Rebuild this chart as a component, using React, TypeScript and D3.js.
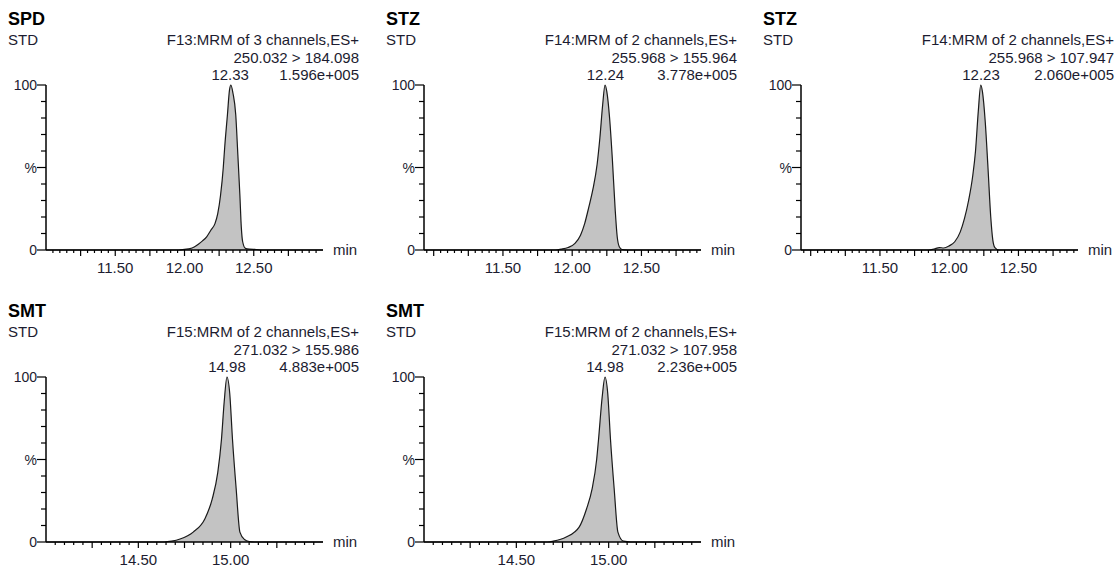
import React from "react";
import * as d3 from "d3";

// ---- data ----
const titles = ["SPD", "STZ", "STZ", "SMT", "SMT"];
const sampleLabel = "STD";
const functionLines = [
  "F13:MRM of 3 channels,ES+",
  "F14:MRM of 2 channels,ES+",
  "F14:MRM of 2 channels,ES+",
  "F15:MRM of 2 channels,ES+",
  "F15:MRM of 2 channels,ES+",
];
const transitions = [
  "250.032 > 184.098",
  "255.968 > 155.964",
  "255.968 > 107.947",
  "271.032 > 155.986",
  "271.032 > 107.958",
];
const peakTimes = [12.33, 12.24, 12.23, 14.98, 14.98];
const intensities = ["1.596e+005", "3.778e+005", "2.060e+005", "4.883e+005", "2.236e+005"];
const xDomains: [number, number][] = [
  [11.0, 13.0],
  [10.93, 12.93],
  [10.93, 12.93],
  [14.0, 15.5],
  [14.0, 15.5],
];
const xTickLabels = [
  [11.5, 12.0, 12.5],
  [11.5, 12.0, 12.5],
  [11.5, 12.0, 12.5],
  [14.5, 15.0],
  [14.5, 15.0],
];

const spdTimes = [11.0, 11.96, 12.0, 12.04, 12.07, 12.1, 12.13, 12.16, 12.19, 12.22, 12.24, 12.26, 12.28, 12.29, 12.31, 12.325, 12.335, 12.35, 12.37, 12.385, 12.4, 12.41, 12.42, 12.44, 12.47, 12.52, 12.56, 13.0];
const spdInt = [0, 0, 0.4, 0.8, 1.8, 3.5, 5.5, 8, 12, 16, 22, 33, 50, 62, 82, 97, 100, 95, 82, 58, 33, 14, 5, 1, 0.5, 0.3, 0, 0];

const stz1Times = [10.93, 11.88, 11.92, 11.97, 12.02, 12.06, 12.09, 12.12, 12.15, 12.18, 12.2, 12.22, 12.237, 12.25, 12.27, 12.29, 12.31, 12.325, 12.34, 12.36, 12.4, 12.93];
const stz1Int = [0, 0, 0.5, 1.5, 4, 9, 16, 26, 37, 52, 68, 88, 100, 96, 80, 55, 25, 8, 2, 0.3, 0, 0];

const stz2Times = [10.93, 11.85, 11.89, 11.93, 11.96, 12.0, 12.04, 12.08, 12.11, 12.14, 12.17, 12.19, 12.21, 12.228, 12.24, 12.26, 12.28, 12.3, 12.315, 12.33, 12.36, 12.93];
const stz2Int = [0, 0, 0.6, 1.5, 1.2, 2.5, 5, 11, 19, 30, 45, 60, 84, 100, 96, 78, 50, 20, 6, 1.5, 0, 0];

const smt1Times = [14.0, 14.64, 14.68, 14.726, 14.797, 14.86, 14.9, 14.93, 14.95, 14.965, 14.98, 14.995, 15.01, 15.03, 15.05, 15.075, 15.1, 15.13, 15.5];
const smt1Int = [0, 0, 0.5, 1.8, 6, 14, 26, 42, 62, 85, 100, 90, 62, 32, 6, 1.5, 0.3, 0, 0];

const smt2Times = [14.0, 14.67, 14.7, 14.77, 14.84, 14.88, 14.91, 14.935, 14.945, 14.965, 14.98, 14.995, 15.01, 15.03, 15.05, 15.08, 15.12, 15.5];
const smt2Int = [0, 0, 0.5, 3, 9, 20, 32, 50, 62, 88, 100, 90, 62, 32, 6, 0.5, 0, 0];

const seriesTimes = [spdTimes, stz1Times, stz2Times, smt1Times, smt2Times];
const seriesInt = [spdInt, stz1Int, stz2Int, smt1Int, smt2Int];

// ---- layout ----
const colX = [46, 424, 801];
const rowTop = [85, 377];
const plotW = 277;
const plotH = 165;
const FONT = "'Liberation Sans', Arial, sans-serif";
const TEXT = "#1c1c30";

function Panel({ i, ox, oy }: { i: number; ox: number; oy: number }) {
  const x = d3.scaleLinear().domain(xDomains[i]).range([ox, ox + plotW]);
  const y = d3.scaleLinear().domain([0, 100]).range([oy + plotH, oy]);
  const pts = seriesTimes[i].map((t, k) => [t, seriesInt[i][k]] as [number, number]);
  const area = d3
    .area<[number, number]>()
    .x((d) => x(d[0]))
    .y0(y(0))
    .y1((d) => y(d[1]))
    .curve(d3.curveMonotoneX);
  const line = d3
    .line<[number, number]>()
    .x((d) => x(d[0]))
    .y((d) => y(d[1]))
    .curve(d3.curveMonotoneX);

  const [d0, d1] = xDomains[i];
  const minor: number[] = [];
  for (let k = Math.ceil(d0 / 0.05 + 1e-6); ; k++) {
    const v = +(k * 0.05).toFixed(4);
    if (v >= d1 - 1e-6) break;
    minor.push(v);
  }
  const isMajor = (v: number) => Math.abs(v / 0.25 - Math.round(v / 0.25)) < 1e-6;
  const yTicks = d3.range(1, 10).map((k) => k * 10);
  const base = y(0);
  const rightX = ox + 313;

  return (
    <g fontFamily={FONT}>
      <text x={ox - 38} y={oy - 60} fontSize={18} fontWeight="bold" fill="#000">
        {titles[i]}
      </text>
      <text x={ox - 38} y={oy - 40} fontSize={15} fill={TEXT}>
        {sampleLabel}
      </text>
      <text x={rightX} y={oy - 40} fontSize={15} fill={TEXT} textAnchor="end">
        {functionLines[i]}
      </text>
      <text x={rightX} y={oy - 22} fontSize={15} fill={TEXT} textAnchor="end">
        {transitions[i]}
      </text>
      <text x={rightX} y={oy - 5} fontSize={15} fill={TEXT} textAnchor="end">
        {intensities[i]}
      </text>
      <text x={x(peakTimes[i])} y={oy - 5} fontSize={15} fill={TEXT} textAnchor="middle">
        {peakTimes[i].toFixed(2)}
      </text>

      <path d={area(pts) || ""} fill="#c3c3c3" stroke="none" />
      <path d={line(pts) || ""} fill="none" stroke="#1a1a1a" strokeWidth={1.2} />

      {/* y axis */}
      <line x1={ox} x2={ox} y1={oy} y2={base} stroke="#000" strokeWidth={1.5} />
      {yTicks.map((v) => (
        <line key={v} x1={ox - (v === 50 ? 9 : 5)} x2={ox} y1={y(v)} y2={y(v)} stroke="#000" strokeWidth={1.2} />
      ))}
      <line x1={ox - 9} x2={ox} y1={y(100)} y2={y(100)} stroke="#000" strokeWidth={1.2} />
      <line x1={ox - 9} x2={ox} y1={base} y2={base} stroke="#000" strokeWidth={1.2} />
      <text x={ox - 9} y={y(100) + 5} fontSize={14} fill={TEXT} textAnchor="end">100</text>
      <text x={ox - 9} y={y(50) + 5} fontSize={14} fill={TEXT} textAnchor="end">%</text>
      <text x={ox - 9} y={base + 5} fontSize={14} fill={TEXT} textAnchor="end">0</text>

      {/* x axis */}
      <line x1={ox} x2={ox + plotW} y1={base} y2={base} stroke="#000" strokeWidth={1.5} />
      {minor.map((v) => (
        <line key={v} x1={x(v)} x2={x(v)} y1={base} y2={base + (isMajor(v) ? 6 : 3)} stroke="#000" strokeWidth={1.2} />
      ))}
      {xTickLabels[i].map((v) => (
        <text key={v} x={x(v)} y={base + 23} fontSize={15} fill={TEXT} textAnchor="middle">
          {v.toFixed(2)}
        </text>
      ))}
      <text x={ox + plotW + 10} y={base + 5} fontSize={15} fill={TEXT}>min</text>
    </g>
  );
}

export default function App() {
  const pos = [
    [colX[0], rowTop[0]],
    [colX[1], rowTop[0]],
    [colX[2], rowTop[0]],
    [colX[0], rowTop[1]],
    [colX[1], rowTop[1]],
  ];
  return (
    <svg
      width={1117}
      height={572}
      style={{ position: "absolute", left: 0, top: 0, background: "#fff" }}
    >
      <rect width={1117} height={572} fill="#fff" />
      {pos.map(([ox, oy], i) => (
        <Panel key={i} i={i} ox={ox} oy={oy} />
      ))}
    </svg>
  );
}
